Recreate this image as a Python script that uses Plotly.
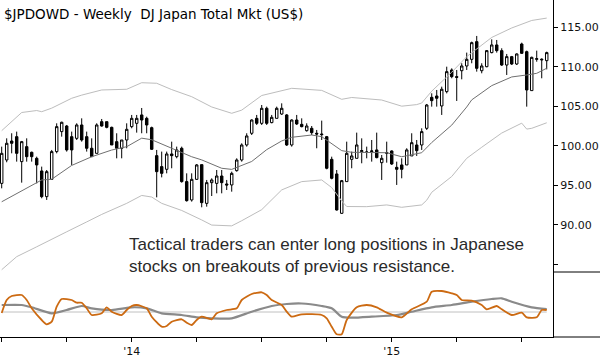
import plotly.graph_objects as go
import pandas as pd

# ---- weekly candles (Jul 2013 - Aug 2015) ----
dates = pd.date_range("2013-07-01", periods=110, freq="7D")

opens = [95.23, 98.19, 100.59, 101.14, 97.98, 99.88, 99.16, 98.40, 96.80, 93.55,
         95.74, 99.25, 101.78, 102.49, 101.14, 100.93, 102.62, 101.14, 99.67, 99.03,
         103.04, 103.04, 102.32, 100.51, 99.67, 100.72, 102.41, 102.83, 103.89, 103.46,
         102.28, 98.74, 97.35, 97.01, 98.95, 98.61, 99.67, 95.45, 93.13, 95.74,
         97.60, 92.70, 95.32, 95.23, 96.16, 95.15, 95.03, 96.84, 98.19, 100.09,
         101.57, 103.46, 102.83, 104.73, 102.92, 103.46, 104.01, 103.89, 100.09, 103.25,
         102.70, 101.90, 102.20, 101.57, 101.48, 101.14, 98.27, 96.42, 91.44, 95.45,
         98.27, 98.40, 99.25, 99.16, 99.25, 99.46, 97.85, 99.03, 99.33, 97.26,
         97.56, 97.56, 98.70, 100.09, 100.09, 102.20, 106.12, 106.29, 105.03, 106.84,
         109.58, 108.74, 109.49, 110.09, 110.93, 113.17, 109.49, 110.00, 111.78, 112.75,
         112.03, 110.21, 111.27, 110.34, 112.87, 111.90, 106.97, 110.93, 110.85, 110.76]
highs = [99.88, 100.93, 101.57, 101.78, 100.60, 100.93, 99.25, 98.61, 97.35, 96.92,
         99.46, 102.83, 103.04, 102.62, 101.78, 102.83, 103.46, 101.78, 100.93, 102.83,
         103.38, 103.04, 102.41, 101.57, 100.72, 102.83, 103.89, 103.89, 104.77, 103.67,
         102.41, 99.46, 99.25, 99.25, 100.51, 99.88, 99.88, 96.50, 96.50, 97.68,
         97.60, 95.66, 95.87, 96.92, 96.92, 95.66, 96.71, 98.40, 100.30, 101.57,
         103.34, 103.89, 105.15, 104.94, 103.89, 104.94, 105.36, 104.01, 103.34, 103.89,
         103.46, 102.83, 102.49, 101.99, 103.17, 101.23, 98.61, 96.92, 95.66, 100.51,
         99.25, 101.65, 100.93, 99.88, 100.72, 101.65, 98.82, 100.51, 99.41, 97.98,
         98.40, 99.67, 101.57, 100.72, 102.20, 105.28, 106.63, 107.05, 107.47, 110.00,
         109.79, 109.58, 110.43, 111.78, 113.17, 113.89, 110.43, 112.11, 113.46, 113.38,
         112.33, 111.61, 111.36, 111.69, 113.04, 112.03, 111.27, 112.03, 111.06, 111.90]
lows = [94.60, 97.90, 99.03, 97.98, 95.32, 97.98, 97.98, 95.23, 93.34, 93.13,
        95.66, 99.03, 101.14, 99.25, 97.56, 100.72, 100.51, 99.25, 98.61, 99.03,
        102.41, 102.20, 100.09, 98.40, 98.40, 99.67, 102.20, 101.65, 101.57, 101.57,
        99.46, 93.46, 95.99, 96.50, 97.14, 98.40, 95.32, 92.92, 92.92, 95.66,
        92.20, 92.28, 93.63, 93.97, 93.97, 94.39, 94.18, 96.71, 97.98, 99.88,
        101.35, 102.62, 102.62, 102.62, 102.83, 103.46, 103.89, 99.96, 99.88, 102.62,
        102.32, 101.78, 101.35, 99.67, 100.72, 97.01, 95.74, 91.78, 91.36, 95.45,
        97.14, 98.40, 97.77, 98.40, 97.98, 98.40, 95.66, 97.85, 97.56, 95.03,
        95.87, 97.56, 98.70, 98.70, 99.46, 101.99, 104.94, 104.94, 103.89, 106.62,
        108.53, 105.66, 108.40, 109.58, 110.43, 109.37, 109.16, 109.92, 111.69, 111.78,
        110.09, 108.95, 110.21, 110.21, 111.61, 104.94, 106.97, 110.63, 108.53, 109.66]
closes = [99.03, 100.30, 100.30, 99.03, 100.51, 98.61, 98.61, 97.56, 93.55, 96.71,
          99.25, 102.41, 102.96, 99.46, 99.46, 102.62, 100.72, 99.67, 98.61, 102.62,
          102.49, 102.32, 100.09, 99.67, 100.72, 102.07, 103.46, 103.46, 103.25, 102.62,
          99.54, 96.71, 96.50, 98.95, 98.74, 99.46, 95.45, 93.04, 95.74, 97.56,
          92.79, 95.32, 95.66, 96.16, 95.32, 95.03, 96.50, 98.19, 100.09, 101.23,
          103.25, 102.83, 104.73, 102.83, 103.59, 104.73, 104.73, 100.09, 103.25, 102.75,
          102.41, 102.49, 101.65, 101.48, 101.40, 97.14, 95.87, 91.86, 95.57, 99.03,
          98.70, 100.09, 99.37, 99.20, 99.33, 98.49, 98.40, 99.12, 97.68, 97.01,
          97.01, 99.46, 100.38, 99.37, 101.78, 105.15, 105.70, 106.00, 107.14, 109.37,
          108.74, 108.65, 110.09, 110.93, 113.04, 109.79, 110.09, 112.03, 112.75, 112.03,
          110.21, 111.27, 110.34, 111.61, 111.69, 107.05, 111.18, 111.01, 110.93, 111.78]

# ---- overlay lines (read at selected weeks) ----
ma_idx = [0, 5, 8, 10, 14, 18, 22, 25, 28, 30, 34, 38, 40, 44, 46, 50, 53, 56, 58, 62,
          64, 66, 68, 70, 77, 80, 84, 86, 90, 93, 94, 98, 102, 105, 107, 109]
ma_val = [92.9, 94.6, 95.66, 95.75, 97.5, 98.6, 99.45, 99.87, 100.95, 100.75, 99.7, 98.6,
          98.2, 97.14, 97.0, 98.0, 99.5, 100.6, 101.06, 101.35, 101.14, 100.3, 99.37, 99.16,
          99.11, 98.6, 99.11, 100.4, 102.6, 104.9, 105.8, 107.6, 108.7, 108.95, 109.16, 109.8]

ub_idx = [0, 3, 4, 7, 8, 10, 14, 16, 20, 25, 28, 31, 34, 38, 40, 42, 46, 48, 52, 58,
          64, 68, 70, 76, 80, 83, 84, 86, 90, 93, 98, 102, 106, 109]
ub_val = [101.9, 103.7, 104.2, 104.45, 104.3, 104.75, 106.0, 106.4, 107.05, 107.14, 107.97,
          107.9, 107.1, 106.2, 105.5, 104.9, 104.1, 104.5, 106.35, 107.26, 107.0, 105.87,
          106.1, 105.78, 105.0, 105.2, 105.4, 106.9, 109.3, 111.27, 113.7, 114.9, 115.85, 116.15]

lb_idx = [0, 3, 7, 10, 13, 17, 20, 25, 28, 30, 32, 36, 38, 40, 42, 46, 48, 52, 56, 60,
          64, 66, 68, 69, 73, 77, 80, 84, 85, 86, 90, 93, 96, 100, 104, 105, 106, 109]
lb_val = [84.3, 85.95, 87.2, 88.1, 89.1, 90.35, 91.3, 92.7, 93.7, 93.5, 92.7, 91.8, 91.25,
          90.6, 89.95, 89.85, 90.5, 91.9, 94.4, 95.45, 95.66, 94.7, 93.0, 92.3, 92.28, 92.5,
          92.2, 92.5, 93.1, 94.1, 96.1, 98.4, 99.8, 101.6, 102.85, 102.1, 102.2, 102.9]

# ---- lower panel oscillator ----
osc_idx = [0, 1, 2, 4, 5, 6, 8, 9, 10, 11, 12, 14, 15, 16, 17, 18, 20, 21, 22, 24, 25, 26,
           27, 29, 30, 32, 33, 34, 36, 37, 38, 39, 40, 42, 43, 45, 47, 48, 50, 52, 53, 54,
           56, 57, 58, 60, 64, 65, 66, 67, 68, 69, 71, 73, 75, 77, 80, 82, 85, 86, 88, 90,
           91, 92, 94, 96, 97, 99, 100, 102, 104, 105, 107, 108, 109]
osc_val = [-1, 12, 16, 17, 12, 3.7, -8, -12.3, -9.7, 5.3, 13, 12, 9.3, 9.3, 3.7, -3, -1.3,
           4.7, 0.3, -3, 2, 6, 7, 3.7, -4.7, -14.7, -14, -9.7, -7.3, -10.7, -13, -8, -4.7,
           -7.3, -1.3, 2, 3.7, 12, 18, 19.7, 17, 12, 7, 0.3, -4.7, -2.3, -3, -6.3, -14.7,
           -22.3, -22.3, -8, 4.7, 7, 4.7, -0.7, -5.3, 2.7, 10.3, 20.3, 21, 18.7, 17, 12,
           11.3, 7, 2.7, 6, 2.7, -3, -0.7, -5.3, -5.3, 2, 2]

sig_idx = [0, 4, 6, 10, 13, 16, 18, 22, 26, 29, 32, 36, 39, 42, 46, 50, 54, 57, 60, 64,
           66, 68, 70, 74, 79, 82, 86, 90, 94, 98, 100, 102, 106, 109]
sig_val = [7, 7, 4.7, -1.3, 2, 6, 3.7, 2, 4.7, 3.7, -1.3, -3, -5.3, -6.3, -6.3, 0.3, 6, 8,
           8.5, 6, 3.7, -4.7, -5.7, -4.7, -3, 0.3, 4.7, 7, 10.3, 13, 13.7, 10.3, 4.7, 3]

price_ticks = [85, 90, 95, 100, 105, 110, 115]
price_labels = ["", "90.00", "95.00", "100.00", "105.00", "110.00", "115.00"]
x_tickdates = ["2013-07-01", "2013-09-30", "2013-12-30", "2014-03-31", "2014-06-30",
               "2014-09-29", "2014-12-29", "2015-03-30", "2015-06-29"]
x_ticklabels = ["", "", "'14", "", "", "", "'15", "", ""]

title_text = "$JPDOWD - Weekly \u00a0DJ Japan Total Mkt (US$)"
note_text = ("Tactical traders can enter long positions in Japanese<br>"
             "stocks on breakouts of previous resistance.")

fig = go.Figure()

def pick(idx):
    return [dates[i] for i in idx]

fig.add_trace(go.Scatter(x=pick(ub_idx), y=ub_val, mode="lines",
                         line=dict(color="#bdbdbd", width=1), xaxis="x", yaxis="y"))
fig.add_trace(go.Scatter(x=pick(lb_idx), y=lb_val, mode="lines",
                         line=dict(color="#bdbdbd", width=1), xaxis="x", yaxis="y"))
fig.add_trace(go.Scatter(x=pick(ma_idx), y=ma_val, mode="lines",
                         line=dict(color="#707070", width=1), xaxis="x", yaxis="y"))
fig.add_trace(go.Candlestick(
    x=dates, open=opens, high=highs, low=lows, close=closes,
    increasing=dict(line=dict(color="black", width=1), fillcolor="white"),
    decreasing=dict(line=dict(color="black", width=1), fillcolor="black"),
    whiskerwidth=0, xaxis="x", yaxis="y"))

fig.add_trace(go.Scatter(x=[dates[0], dates[-1]], y=[0, 0], mode="lines",
                         line=dict(color="#c0c0c0", width=1), xaxis="x2", yaxis="y2"))
fig.add_trace(go.Scatter(x=pick(sig_idx), y=sig_val, mode="lines",
                         line=dict(color="#8a8a8a", width=2.2, shape="spline", smoothing=0.6),
                         xaxis="x2", yaxis="y2"))
fig.add_trace(go.Scatter(x=pick(osc_idx), y=osc_val, mode="lines",
                         line=dict(color="#cc6a12", width=1.8, shape="spline", smoothing=0.6),
                         xaxis="x2", yaxis="y2"))

xl = "2013-06-28 15:00"
xr = "2015-08-11 19:00"
split = (337 - 272) / 337
tickfont = dict(family="DejaVu Sans", size=11, color="#111111")

fig.update_layout(
    width=600, height=360,
    margin=dict(l=0, r=47, t=0, b=23),
    paper_bgcolor="white", plot_bgcolor="white",
    showlegend=False, hovermode=False,
    xaxis=dict(domain=[0, 1], range=[xl, xr], anchor="y", type="date",
               showticklabels=False, showgrid=False, zeroline=False, showline=False,
               ticks="", rangeslider=dict(visible=False)),
    xaxis2=dict(domain=[0, 1], range=[xl, xr], anchor="y2", type="date", matches="x",
                tickvals=x_tickdates, ticktext=x_ticklabels, ticks="outside", ticklen=4,
                tickcolor="black", showline=True, linecolor="black", linewidth=1,
                showgrid=False, zeroline=False, tickfont=tickfont),
    yaxis=dict(domain=[split, 1], range=[84.01, 118.44], side="right", anchor="x",
               tickvals=price_ticks, ticktext=price_labels, ticks="outside", ticklen=4,
               tickcolor="black", showline=True, linecolor="black", linewidth=1,
               showgrid=False, zeroline=False, tickfont=tickfont),
    yaxis2=dict(domain=[0, split], range=[-25, 40], side="right", anchor="x2",
                showline=True, linecolor="black", linewidth=1, showticklabels=False,
                ticks="", showgrid=False, zeroline=False),
    shapes=[
        dict(type="line", xref="paper", yref="paper", x0=1, x1=1 + 47 / 553,
             y0=split, y1=split, line=dict(color="black", width=1)),
        dict(type="line", xref="paper", yref="paper", x0=1, x1=1 + 47 / 553,
             y0=0, y1=0, line=dict(color="black", width=1)),
    ],
    annotations=[
        dict(text=title_text, xref="paper", yref="paper", x=0.003, y=1, xanchor="left",
             yanchor="top", yshift=-4, showarrow=False,
             font=dict(family="DejaVu Sans", size=13.5, color="#000000")),
        dict(text=note_text, xref="paper", yref="paper", x=127 / 553, y=(337 - 233) / 337,
             xanchor="left", yanchor="top", align="left", showarrow=False,
             font=dict(family="Liberation Sans", size=17, color="#2a2a2a")),
    ],
)

fig.write_html("out.html", config={"displayModeBar": False, "staticPlot": True},
               post_script="document.body.style.margin='0';document.body.style.padding='0';")
